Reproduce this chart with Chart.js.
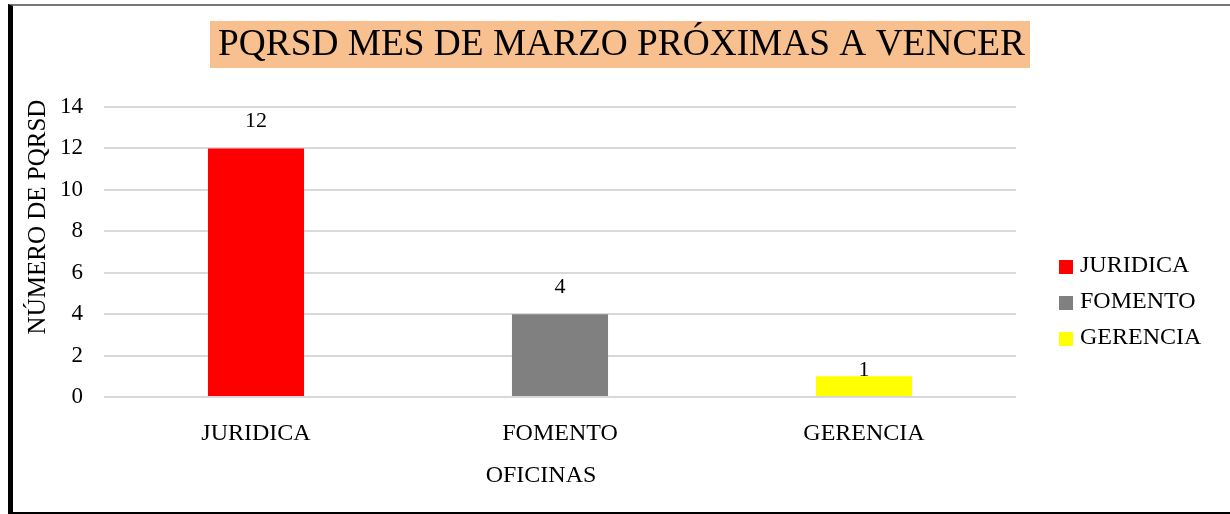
<!DOCTYPE html>
<html>
<head>
<meta charset="utf-8">
<script src="https://cdn.jsdelivr.net/npm/chart.js@4.4.1/dist/chart.umd.min.js"></script>
<style>
  html, body { margin: 0; padding: 0; background: #fff; }
  #wrap { position: relative; width: 1230px; height: 514px; }
  #frame {
    position: absolute; left: 8px; top: 4px; width: 1217px; height: 506px;
    border-left: 5px solid #000; border-right: 3px solid #000;
    border-bottom: 2px solid #000; border-top: 2px solid #777;
    pointer-events: none;
  }
</style>
</head>
<body>
<div id="wrap">
  <canvas id="chart" width="1230" height="514"></canvas>
  <div id="frame"></div>
</div>
<script>
// Chart data
const categories = ['JURIDICA', 'FOMENTO', 'GERENCIA'];
const values = [12, 4, 1];
const barColors = ['#ff0000', '#808080', '#ffff00'];
const yTicks = [0, 2, 4, 6, 8, 10, 12, 14];

const chartTitle = 'PQRSD MES DE MARZO PRÓXIMAS A VENCER';
const xTitle = 'OFICINAS';
const yTitle = 'NÚMERO DE PQRSD';

const serif = '"Liberation Serif", "Times New Roman", serif';
// how far each value label sits above its bar
const labelLift = [27, 27, 6];

// Draws title box, axis titles, value labels and the legend
const extras = {
    id: 'extras',
    beforeDraw(chart) {
        const ctx = chart.ctx;
        ctx.save();
        ctx.fillStyle = '#f8c08f';
        ctx.fillRect(210, 21, 820, 47);
        ctx.restore();
    },
    afterDraw(chart) {
        const ctx = chart.ctx;
        ctx.save();

        // title, squeezed to the box width
        ctx.font = '38px ' + serif;
        ctx.fillStyle = '#000';
        ctx.textBaseline = 'middle';
        ctx.textAlign = 'left';
        const w = ctx.measureText(chartTitle).width;
        const target = 807;
        ctx.save();
        ctx.translate(218, 45);
        ctx.scale(target / w, 1);
        ctx.fillText(chartTitle, 0, 0);
        ctx.restore();

        // axis titles
        ctx.font = '24px ' + serif;
        ctx.textAlign = 'center';
        ctx.fillText(xTitle, 541, 476);
        ctx.font = '25px ' + serif;
        ctx.save();
        ctx.translate(38, 217);
        ctx.rotate(-Math.PI / 2);
        ctx.fillText(yTitle, 0, 0);
        ctx.restore();

        // value labels
        ctx.font = '22px ' + serif;
        const meta = chart.getDatasetMeta(0);
        meta.data.forEach((bar, i) => {
            ctx.fillText(String(values[i]), bar.x, bar.y - labelLift[i]);
        });

        // legend
        ctx.font = '24px ' + serif;
        ctx.textAlign = 'left';
        categories.forEach((name, i) => {
            const cy = 267 + i * 36;
            ctx.fillStyle = barColors[i];
            ctx.fillRect(1059, cy - 7, 14, 14);
            ctx.fillStyle = '#000';
            ctx.fillText(name, 1080, cy - 1);
        });

        ctx.restore();
    }
};

const ctx = document.getElementById('chart').getContext('2d');
new Chart(ctx, {
    type: 'bar',
    data: {
        labels: categories,
        datasets: [{
            data: values,
            backgroundColor: barColors,
            borderWidth: 0,
            categoryPercentage: 0.316,
            barPercentage: 1
        }]
    },
    options: {
        responsive: false,
        animation: false,
        layout: { padding: { left: 0, right: 214, top: 107, bottom: 0 } },
        plugins: {
            legend: { display: false },
            tooltip: { enabled: false }
        },
        scales: {
            x: {
                grid: { display: false, drawTicks: false },
                border: { display: false },
                ticks: { color: '#000', font: { family: serif, size: 24 }, padding: 22 },
                afterFit(scale) { scale.height = 117; }
            },
            y: {
                min: yTicks[0],
                max: yTicks[yTicks.length - 1],
                afterBuildTicks(scale) { scale.ticks = yTicks.map(v => ({ value: v })); },
                grid: { color: '#d9d9d9', lineWidth: 2, drawTicks: false },
                border: { display: false },
                ticks: { color: '#000', font: { family: serif, size: 23 }, padding: 21 },
                afterFit(scale) { scale.width = 104; }
            }
        }
    },
    plugins: [extras]
});
</script>
</body>
</html>
